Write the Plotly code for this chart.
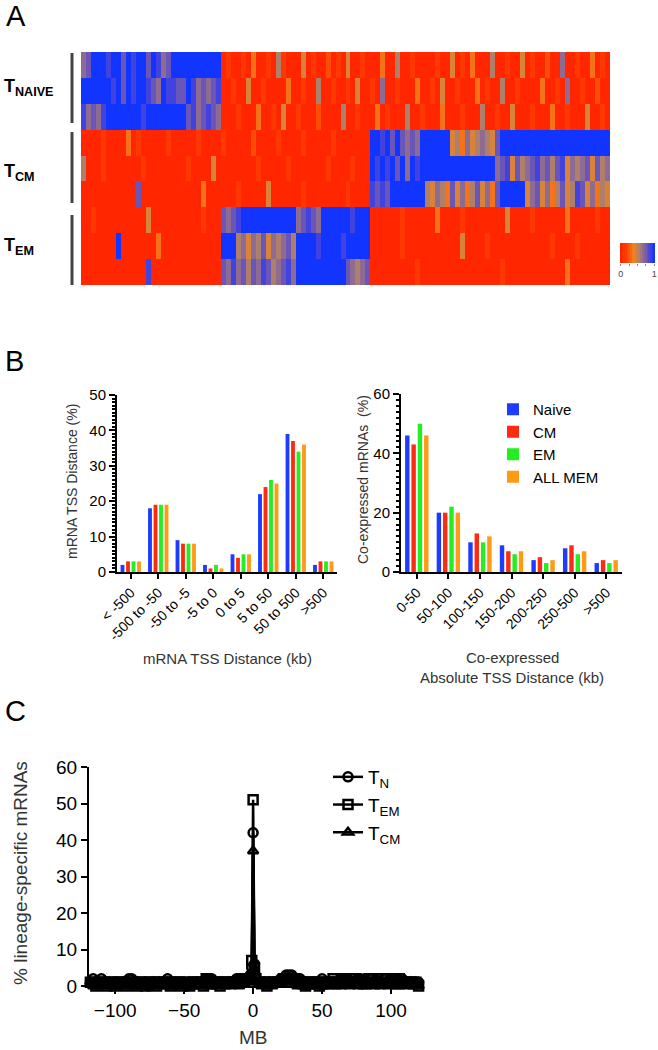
import plotly.graph_objects as go

# ---------------- Panel A: heatmap (levels 0-9, 0 = low/red, 9 = high/blue) -------------
row_labels = ["N1", "N2", "N3", "CM1", "CM2", "CM3", "EM1", "EM2", "EM3"]
heat_rows = [
    "6799989979 8997986799 9999999901 0010300105 1000401002 0104001000 3005001000 0100401030 0050010040 1002006001 003010",
    "9999998979 8998769887 7986767800 1004001000 0300100500 1001040010 6001000300 1040010003 0100500100 0030010600 100200",
    "8676899999 9989999999 9786787600 0100030010 4001000200 0050010003 0100050010 0030001000 5001004000 1000300100 040010",
    "0000100003 0100000100 0001000010 0000200001 0000100000 1000000099 8979767699 9999453645 6547999999 9999999999 999999",
    "5000100000 0010000000 0100004000 0000010000 0100000001 0000100098 9897969899 9999999999 9996784756 7867578465 674756",
    "0000000000 0700000000 0000300000 0100000400 0000100000 0001000087 8799999995 4653746357 4637999994 6746357458 746354",
    "0010000000 0004000000 0000100076 7899999999 9996787699 9999899900 0000100000 0300001000 0000040000 1000000300 000100",
    "0000000900 0000030000 0000000099 9564657465 6759999899 9989999900 0000100000 0000004000 0100000000 0000100001 000000",
    "0000000000 0008000000 0000000076 8675768756 7869999999 9997656700 0000000100 0000000000 0000100000 0000000300 000000",
]
cbar_vals = [0.0, 0.05, 0.1, 0.15, 0.2, 0.25, 0.3, 0.35, 0.4, 0.45, 0.5,
             0.55, 0.6, 0.65, 0.7, 0.75, 0.8, 0.85, 0.9, 0.95, 1.0]

# ---------------- Panel B ----------------
b1_cats = ["< -500", "-500 to -50", "-50 to -5", "-5 to 0", "0 to 5", "5 to 50", "50 to 500", ">500"]
b1_naive = [2, 18, 9, 2, 5, 22, 39, 2]
b1_cm = [3, 19, 8, 1, 4, 24, 37, 3]
b1_em = [3, 19, 8, 2, 5, 26, 34, 3]
b1_all = [3, 19, 8, 1, 5, 25, 36, 3]

b2_cats = ["0-50", "50-100", "100-150", "150-200", "200-250", "250-500", ">500"]
b2_naive = [46, 20, 10, 9, 4, 8, 3]
b2_cm = [43, 20, 13, 7, 5, 9, 4]
b2_em = [50, 22, 10, 6, 3, 6, 3]
b2_all = [46, 20, 12, 7, 4, 7, 4]

series_names = ["Naive", "CM", "EM", "ALL MEM"]
series_colors = ["#1e3cff", "#ff2a12", "#22ee22", "#ff9a14"]

# ---------------- Panel C ----------------
mb = [-120, -118, -116, -114, -112, -110, -108, -106, -104, -102,
      -100, -98, -96, -94, -92, -90, -88, -86, -84, -82,
      -80, -78, -76, -74, -72, -70, -68, -66, -64, -62,
      -60, -58, -56, -54, -52, -50, -48, -46, -44, -42,
      -40, -38, -36, -34, -32, -30, -28, -26, -24, -22,
      -20, -18, -16, -14, -12, -10, -8, -6, -4, -2,
      -1, 0, 1,
      2, 4, 6, 8, 10, 12, 14, 16, 18, 20,
      22, 24, 26, 28, 30, 32, 34, 36, 38, 40,
      42, 44, 46, 48, 50, 52, 54, 56, 58, 60,
      62, 64, 66, 68, 70, 72, 74, 76, 78, 80,
      82, 84, 86, 88, 90, 92, 94, 96, 98, 100,
      102, 104, 106, 108, 110, 112, 114, 116, 118, 120]
tn = [2, 1, 2, 1, 1, 2, 1, 1, 1, 1,
      1, 1, 1, 1, 1, 2, 2, 1, 1, 1,
      1, 1, 0, 1, 1, 1, 1, 1, 1, 2,
      1, 1, 1, 1, 1, 1, 0, 1, 1, 1,
      1, 1, 1, 2, 2, 2, 1, 1, 1, 1,
      1, 1, 1, 1, 2, 2, 1, 1, 2, 3,
      5, 42, 6,
      2, 1, 1, 1, 1, 1, 1, 1, 1, 2,
      2, 3, 3, 3, 2, 2, 2, 1, 1, 1,
      1, 1, 1, 1, 2, 1, 1, 1, 1, 1,
      1, 1, 2, 2, 1, 1, 1, 2, 2, 1,
      1, 1, 2, 1, 1, 1, 1, 2, 1, 1,
      2, 1, 1, 2, 1, 1, 1, 1, 1, 1]
tem = [1, 1, 1, 0, 1, 1, 1, 0, 1, 1,
       0, 1, 1, 1, 0, 1, 1, 1, 0, 1,
       1, 0, 1, 1, 1, 0, 1, 1, 1, 1,
       0, 1, 1, 1, 0, 1, 1, 0, 1, 1,
       1, 1, 0, 2, 1, 1, 1, 1, 0, 1,
       1, 1, 1, 1, 1, 1, 2, 1, 2, 2,
       7, 51, 5,
       2, 1, 1, 1, 0, 1, 1, 1, 1, 1,
       2, 2, 2, 2, 2, 1, 1, 1, 0, 1,
       1, 1, 1, 0, 1, 1, 1, 1, 2, 1,
       1, 2, 2, 1, 1, 2, 2, 1, 1, 1,
       1, 2, 2, 1, 1, 1, 2, 2, 1, 1,
       1, 2, 2, 1, 1, 1, 1, 1, 1, 0]
tcm = [0, 1, 0, 1, 0, 0, 1, 0, 1, 0,
       1, 0, 0, 1, 0, 1, 0, 0, 1, 0,
       0, 1, 0, 0, 1, 0, 1, 0, 0, 1,
       0, 0, 1, 0, 0, 1, 0, 1, 0, 0,
       1, 0, 1, 1, 0, 0, 1, 0, 1, 1,
       0, 1, 0, 1, 1, 0, 1, 1, 2, 2,
       4, 37, 4,
       1, 1, 0, 1, 0, 1, 0, 1, 1, 1,
       1, 2, 2, 1, 1, 0, 1, 0, 1, 0,
       0, 1, 0, 1, 0, 0, 1, 0, 1, 0,
       1, 0, 1, 1, 0, 1, 1, 0, 1, 0,
       0, 1, 1, 0, 1, 0, 1, 1, 0, 1,
       1, 0, 0, 1, 1, 0, 1, 0, 1, 0]

# ---------------- helpers ----------------
W, H = 658, 1050
def fx(p):
    return p / W
def fy(p):
    return 1 - p / H

FONT = "Arial, Liberation Sans, Helvetica, sans-serif"

fig = go.Figure()

# heatmap
z = []
for r in heat_rows:
    s = r.replace(" ", "")
    s = (s + "0" * 106)[:106]
    z.append([int(c) / 9 for c in s])

cscale = [[0.0, "#ff2600"], [0.2, "#ff4400"], [0.38, "#f2841e"], [0.55, "#b08068"],
          [0.72, "#7e62a6"], [0.87, "#4a44d8"], [1.0, "#1234ff"]]
fig.add_trace(go.Heatmap(
    z=z, y=row_labels, colorscale=cscale, zmin=0, zmax=1, showscale=False,
    xaxis="x", yaxis="y", hoverinfo="skip",
))
# small colour key
fig.add_trace(go.Heatmap(
    z=[cbar_vals], x=cbar_vals, colorscale=cscale, zmin=0, zmax=1, showscale=False,
    xaxis="x5", yaxis="y5", hoverinfo="skip",
))

# panel B left
for name, col, vals in zip(series_names, series_colors, [b1_naive, b1_cm, b1_em, b1_all]):
    fig.add_trace(go.Bar(x=b1_cats, y=vals, name=name, marker=dict(color=col, line=dict(width=0)),
                         xaxis="x2", yaxis="y2", showlegend=False))
# panel B right
for name, col, vals in zip(series_names, series_colors, [b2_naive, b2_cm, b2_em, b2_all]):
    fig.add_trace(go.Bar(x=b2_cats, y=vals, name=name, marker=dict(color=col, line=dict(width=0)),
                         xaxis="x3", yaxis="y3", showlegend=True, legend="legend"))

# panel C
for name, vals, sym in [("T<sub>N</sub>", tn, "circle-open"), ("T<sub>EM</sub>", tem, "square-open"),
                        ("T<sub>CM</sub>", tcm, "triangle-up-open")]:
    fig.add_trace(go.Scatter(x=mb, y=vals, name=name, mode="lines+markers",
                             line=dict(color="black", width=2.5),
                             marker=dict(symbol=sym, size=9, color="black",
                                         line=dict(color="black", width=2.5)),
                             cliponaxis=False, xaxis="x4", yaxis="y4", legend="legend2"))

axis_common = dict(showgrid=False, zeroline=False, showline=True, linecolor="black", linewidth=2,
                   ticks="outside", tickcolor="black", tickwidth=2)

fig.update_layout(
    width=W, height=H, margin=dict(l=0, r=0, t=0, b=0, autoexpand=False),
    paper_bgcolor="white", plot_bgcolor="white",
    font=dict(family=FONT, color="black"),
    barmode="group", bargap=0.2, bargroupgap=0.3,
    xaxis=dict(domain=[fx(81), fx(610)], visible=False, anchor="y"),
    yaxis=dict(domain=[fy(285), fy(52)], visible=False, autorange="reversed", anchor="x"),
    xaxis5=dict(domain=[fx(620), fx(655)], anchor="y5", range=[-0.025, 1.025],
                tickvals=[0, 1], ticktext=["0", "1"],
                ticks="outside", ticklen=2, tickcolor="#888", showline=False, showgrid=False,
                zeroline=False, tickfont=dict(size=9, color="#444"),
                minor=dict(dtick=0.25, tick0=0, ticks="outside", ticklen=2, tickcolor="#888")),
    yaxis5=dict(domain=[fy(263), fy(243)], anchor="x5", visible=False),
    xaxis2=dict(domain=[fx(117), fx(337)], anchor="y2", type="category", tickangle=-45,
                ticklen=5, tickfont=dict(size=14), **axis_common),
    yaxis2=dict(domain=[fy(572), fy(395)], anchor="x2", range=[0, 50], dtick=10, ticklen=6,
                tickfont=dict(size=15),
                minor=dict(dtick=1, ticklen=3, tickwidth=1.5, ticks="outside", tickcolor="black"),
                **axis_common),
    xaxis3=dict(domain=[fx(401), fx(622)], anchor="y3", type="category", tickangle=-45,
                ticklen=5, tickfont=dict(size=14), **axis_common),
    yaxis3=dict(domain=[fy(572), fy(394)], anchor="x3", range=[0, 60], dtick=20, ticklen=6,
                tickfont=dict(size=15),
                minor=dict(dtick=2, ticklen=3, tickwidth=1.5, ticks="outside", tickcolor="black"),
                **axis_common),
    xaxis4=dict(domain=[fx(89), fx(420)], anchor="y4", range=[-119, 121],
                tickvals=[-100, -50, 0, 50, 100], ticklen=6, tickfont=dict(size=19), **axis_common),
    yaxis4=dict(domain=[fy(986), fy(767)], anchor="x4", range=[0, 60], dtick=10, ticklen=6,
                tickfont=dict(size=19), **axis_common),
    legend=dict(x=fx(493), y=fy(393), xanchor="left", yanchor="top", bgcolor="rgba(0,0,0,0)",
                font=dict(size=15, family=FONT), tracegroupgap=0, itemclick=False),
    legend2=dict(x=fx(328), y=fy(758), xanchor="left", yanchor="top", bgcolor="rgba(0,0,0,0)",
                 font=dict(size=19, family=FONT), tracegroupgap=0, itemclick=False),
)

# group bars for heatmap
for y0, y1 in [(53, 123), (132, 203), (215, 285)]:
    fig.add_shape(type="line", xref="paper", yref="paper", x0=fx(72), x1=fx(72),
                  y0=fy(y0), y1=fy(y1), line=dict(color="#444", width=3))

annots = [
    dict(text="A", x=fx(4), y=fy(16), size=29, xanchor="left"),
    dict(text="B", x=fx(3), y=fy(361), size=29, xanchor="left"),
    dict(text="C", x=fx(3), y=fy(711), size=29, xanchor="left"),
    dict(text="<b>T<sub>NAIVE</sub></b>", x=fx(2), y=fy(88), size=18, xanchor="left"),
    dict(text="<b>T<sub>CM</sub></b>", x=fx(2), y=fy(172), size=18, xanchor="left"),
    dict(text="<b>T<sub>EM</sub></b>", x=fx(2), y=fy(246), size=18, xanchor="left"),
    dict(text="mRNA TSS Distance (%)", x=fx(72), y=fy(482), size=14, textangle=-90, color="#333"),
    dict(text="mRNA TSS Distance (kb)", x=fx(227), y=fy(658), size=15, color="#333"),
    dict(text="Co-expressed mRNAs  (%)", x=fx(363), y=fy(480), size=14, textangle=-90, color="#333"),
    dict(text="Co-expressed", x=fx(512), y=fy(657), size=15, color="#333"),
    dict(text="Absolute TSS Distance (kb)", x=fx(512), y=fy(677), size=15, color="#333"),
    dict(text="% lineage-specific mRNAs", x=fx(20), y=fy(873), size=19, textangle=-90, color="#333"),
    dict(text="MB", x=fx(253), y=fy(1037), size=19, color="#333"),
]
for a in annots:
    fig.add_annotation(text=a["text"], x=a["x"], y=a["y"], xref="paper", yref="paper",
                       showarrow=False, xanchor=a.get("xanchor", "center"), yanchor="middle",
                       textangle=a.get("textangle", 0),
                       font=dict(size=a["size"], color=a.get("color", "black"), family=FONT))

fig.write_html("out.html", config={"displayModeBar": False},
               post_script="document.body.style.margin='0';document.body.style.padding='0';")
